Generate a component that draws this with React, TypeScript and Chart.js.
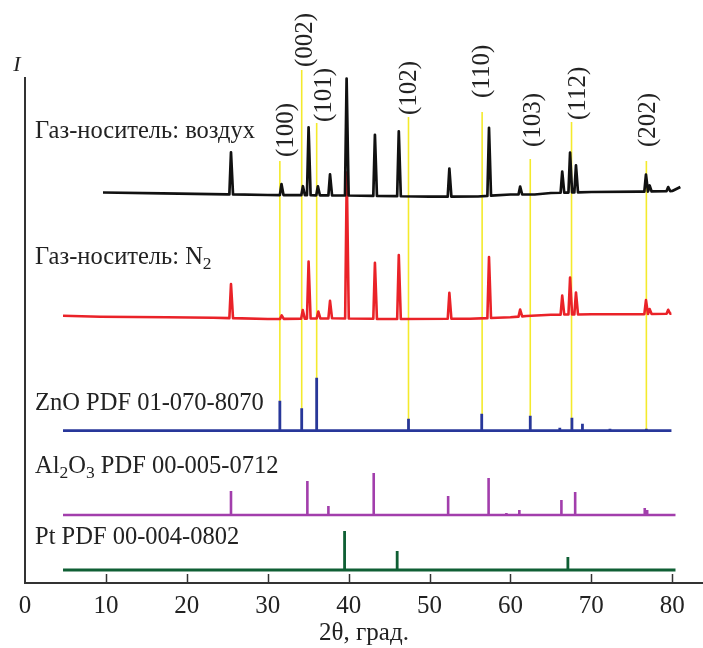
import React, { useEffect, useRef } from 'react';
import { Chart, registerables } from 'chart.js';

Chart.register(...registerables);

const FONT = '"Liberation Serif", "Times New Roman", serif';

// x axis ticks
const xTickValues = [0, 10, 20, 30, 40, 50, 60, 70, 80];
const xTickLabels = ['0', '10', '20', '30', '40', '50', '60', '70', '80'];

// Sample: carrier gas air (black) – baseline knots and peaks (2θ, height)
const airBaseX = [9.64, 17, 25, 30, 40, 50, 56, 60, 63, 65, 70, 76, 80, 81.0];
const airBaseY = [390.5, 389.7, 388.7, 388, 387.5, 386.3, 386.5, 388.5, 388.5, 390, 391, 391.3, 392, 396];
const airPeakX = [25.46, 31.7, 34.35, 35.05, 36.2, 37.7, 39.75, 43.25, 46.2, 52.45, 57.35, 61.2, 66.4, 67.37, 68.1, 76.75, 77.2, 79.5];
const airPeakH = [42, 11, 9, 68, 9, 21, 117, 61, 65, 28, 68, 8, 21, 40, 27, 17, 6, 4];

// Sample: carrier gas N2 (red)
const n2BaseX = [4.7, 9.3, 17.5, 23.3, 30, 38, 45, 55, 60, 62, 65, 70, 75, 79.9];
const n2BaseY = [267.3, 266.3, 265.7, 265.3, 264, 264.7, 264, 264.3, 265.7, 267, 268.3, 268.7, 268.7, 269.3];
const n2PeakX = [25.46, 31.73, 34.33, 35.05, 36.25, 37.7, 39.77, 43.25, 46.2, 52.45, 57.35, 61.2, 66.4, 67.37, 68.1, 76.75, 77.2, 79.5];
const n2PeakH = [34, 3.5, 8.5, 57, 7, 17.5, 146, 56, 64, 26, 61, 7, 19, 37, 22, 14, 5, 4];

// Reference stick patterns
const znoBase = 152.3;
const znoRange = [4.7, 79.9];
const znoX = [31.5, 34.2, 36.05, 47.4, 56.45, 62.45, 66.1, 67.6, 68.9, 72.3, 76.8];
const znoH = [30, 22.5, 53, 12, 17, 15, 3, 13, 7, 2, 2];

const al2o3Base = 68;
const al2o3Range = [4.7, 80.4];
const al2o3X = [25.46, 34.9, 37.5, 43.1, 52.3, 57.3, 59.5, 61.1, 66.3, 68.0, 76.6, 76.9];
const al2o3H = [24, 34, 9, 42, 19, 37, 2, 5, 15, 23, 7, 5];

const ptBase = 13;
const ptRange = [4.7, 80.4];
const ptX = [39.5, 46.0, 67.1];
const ptH = [39, 19, 13];

// ZnO reflections (yellow guide lines)
const hklLabels = ['(100)', '(002)', '(101)', '(102)', '(110)', '(103)', '(112)', '(202)'];
const hklX = [31.5, 34.2, 36.05, 47.4, 56.5, 62.45, 67.55, 76.8];
const hklTop = [422, 513, 460, 466, 471, 424, 461, 422];
const hklLabelX = [32.26, 34.6, 36.96, 47.47, 56.55, 62.79, 68.36, 77.0];
const hklLabelBottom = [426, 516, 461, 468, 485, 436, 463, 436];

// Series captions: segments [text, isSubscript]
const captionSegments: [string, boolean][][] = [
  [['Газ-носитель: воздух', false]],
  [['Газ-носитель: N', false], ['2', true]],
  [['ZnO PDF 01-070-8070', false]],
  [['Al', false], ['2', true], ['O', false], ['3', true], [' PDF 00-005-0712', false]],
  [['Pt PDF 00-004-0802', false]],
];
const captionX = 1.24;
const captionY = [445.3, 319, 173, 110, 39];

const COLORS = {
  air: '#111111',
  n2: '#ea2228',
  zno: '#28379a',
  al2o3: '#a23eac',
  pt: '#0f5f34',
  hkl: '#f4ea2c',
  axis: '#333333',
  text: '#222222',
};

function interp(xs: number[], ys: number[], x: number): number {
  if (x <= xs[0]) return ys[0];
  for (let i = 1; i < xs.length; i++) {
    if (x <= xs[i]) {
      const t = (x - xs[i - 1]) / (xs[i] - xs[i - 1]);
      return ys[i - 1] + t * (ys[i] - ys[i - 1]);
    }
  }
  return ys[ys.length - 1];
}

function buildProfile(baseX: number[], baseY: number[], peakX: number[], peakH: number[], wl: number, wr: number) {
  const set = new Set<number>(baseX);
  peakX.forEach((p) => {
    set.add(+(p - wl).toFixed(3));
    set.add(p);
    set.add(+(p + wr).toFixed(3));
  });
  const lo = baseX[0];
  const hi = baseX[baseX.length - 1];
  const xs = [...set].filter((v) => v >= lo && v <= hi).sort((a, b) => a - b);
  return xs.map((x) => {
    let y = interp(baseX, baseY, x);
    peakX.forEach((p, i) => {
      const w = x < p ? wl : wr;
      const d = Math.abs(x - p);
      if (d < w) y += peakH[i] * (1 - d / w);
    });
    return { x, y };
  });
}

function buildSticks(base: number, range: number[], px: number[], ph: number[]) {
  const idx = px.map((_, i) => i).sort((a, b) => px[a] - px[b]);
  const pts: { x: number; y: number }[] = [{ x: range[0], y: base }];
  idx.forEach((i) => {
    pts.push({ x: px[i], y: base }, { x: px[i], y: base + ph[i] }, { x: px[i], y: base });
  });
  pts.push({ x: range[1], y: base });
  return pts;
}

function lineDs(data: { x: number; y: number }[], color: string, width: number, join: CanvasLineJoin) {
  return {
    data,
    borderColor: color,
    backgroundColor: color,
    borderWidth: width,
    showLine: true,
    pointRadius: 0,
    pointHoverRadius: 0,
    fill: false,
    tension: 0,
    borderJoinStyle: join,
    clip: false as any,
  };
}

const decor = {
  id: 'decor',
  afterDatasetsDraw(chart: any) {
    const { ctx, chartArea, scales } = chart;
    const xs = scales.x;
    const ys = scales.y;
    ctx.save();
    // inward tick marks
    ctx.strokeStyle = COLORS.axis;
    ctx.lineWidth = 1.5;
    xTickValues.forEach((v) => {
      if (v === 0) return;
      const px = Math.round(xs.getPixelForValue(v)) + 0.5;
      ctx.beginPath();
      ctx.moveTo(px, chartArea.bottom);
      ctx.lineTo(px, chartArea.bottom - 9);
      ctx.stroke();
    });
    // hkl labels (rotated)
    ctx.fillStyle = COLORS.text;
    ctx.font = `25px ${FONT}`;
    ctx.textAlign = 'left';
    ctx.textBaseline = 'middle';
    hklLabels.forEach((t, i) => {
      ctx.save();
      ctx.translate(xs.getPixelForValue(hklLabelX[i]), ys.getPixelForValue(hklLabelBottom[i]));
      ctx.rotate(-Math.PI / 2);
      ctx.fillText(t, 0, 0);
      ctx.restore();
    });
    // captions
    ctx.textBaseline = 'alphabetic';
    captionSegments.forEach((segs, i) => {
      let cx = xs.getPixelForValue(captionX);
      const cy = ys.getPixelForValue(captionY[i]);
      segs.forEach(([t, sub]) => {
        ctx.font = sub ? `17.5px ${FONT}` : `24.5px ${FONT}`;
        ctx.fillText(t, cx, sub ? cy + 5 : cy);
        cx += ctx.measureText(t).width;
      });
    });
    // intensity axis letter
    ctx.font = `italic 22px ${FONT}`;
    ctx.textAlign = 'center';
    ctx.fillText('I', chartArea.left - 8, chartArea.top - 7);
    ctx.restore();
  },
};

export default function App() {
  const ref = useRef<HTMLCanvasElement>(null);
  useEffect(() => {
    const canvas = ref.current;
    if (!canvas) return;
    const datasets: any[] = [
      lineDs(buildProfile(airBaseX, airBaseY, airPeakX, airPeakH, 0.2, 0.25), COLORS.air, 2.7, 'round'),
      lineDs(buildProfile(n2BaseX, n2BaseY, n2PeakX, n2PeakH, 0.2, 0.25), COLORS.n2, 2.6, 'round'),
      lineDs(buildSticks(znoBase, znoRange, znoX, znoH), COLORS.zno, 2.8, 'bevel'),
      lineDs(buildSticks(al2o3Base, al2o3Range, al2o3X, al2o3H), COLORS.al2o3, 2.6, 'bevel'),
      lineDs(buildSticks(ptBase, ptRange, ptX, ptH), COLORS.pt, 2.8, 'bevel'),
    ];
    hklX.forEach((hx, i) => {
      datasets.push(lineDs([{ x: hx, y: znoBase }, { x: hx, y: hklTop[i] }], COLORS.hkl, 1.6, 'miter'));
    });
    const chart = new Chart(canvas, {
      type: 'scatter',
      data: { datasets },
      options: {
        animation: false,
        responsive: false,
        devicePixelRatio: 1,
        layout: { padding: { top: 78, left: 0, right: 0, bottom: 0 } },
        plugins: { legend: { display: false }, tooltip: { enabled: false }, title: { display: false } },
        scales: {
          x: {
            type: 'linear',
            min: 0,
            max: 83.8,
            position: 'bottom',
            afterFit: (s: any) => {
              s.height = 65;
            },
            afterBuildTicks: (s: any) => {
              s.ticks = xTickValues.map((v) => ({ value: v }));
            },
            ticks: {
              callback: (v: any) => {
                const i = xTickValues.indexOf(Number(v));
                return i >= 0 ? xTickLabels[i] : '';
              },
              font: { family: FONT, size: 25 },
              color: COLORS.text,
              padding: 8,
              maxRotation: 0,
              autoSkip: false,
            },
            grid: { display: false, drawTicks: false },
            border: { display: true, color: COLORS.axis, width: 2 },
            title: {
              display: true,
              text: '2θ, град.',
              font: { family: FONT, size: 25 },
              color: COLORS.text,
              padding: { top: 0, bottom: 0 },
            },
          },
          y: {
            type: 'linear',
            min: 0,
            max: 505,
            afterFit: (s: any) => {
              s.width = 25;
            },
            ticks: { display: false },
            grid: { display: false, drawTicks: false },
            border: { display: true, color: COLORS.axis, width: 2 },
          },
        },
      } as any,
      plugins: [decor],
    });
    return () => chart.destroy();
  }, []);
  return (
    <div style={{ position: 'fixed', left: 0, top: 0, width: 703, height: 648, background: '#fff' }}>
      <canvas ref={ref} width={703} height={648} style={{ display: 'block', width: 703, height: 648 }} />
    </div>
  );
}
